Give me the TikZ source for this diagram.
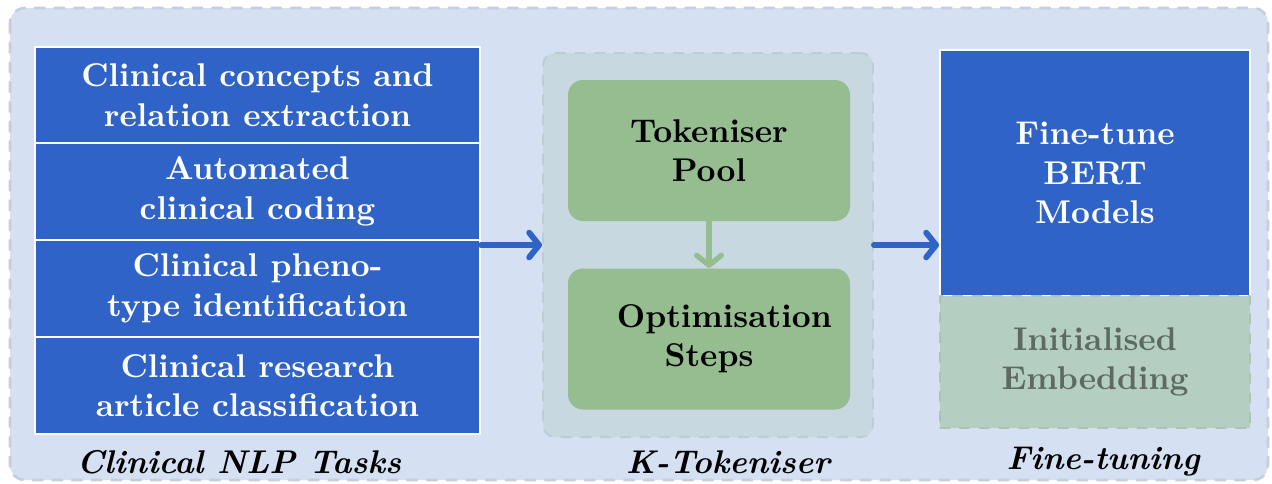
\documentclass[tikz,border=0pt]{standalone}
\usepackage{tikz}
\usetikzlibrary{arrows.meta}

\definecolor{outerbg}{HTML}{D5E0F3}
\definecolor{taskblue}{HTML}{3063C8}
\definecolor{panelbg}{HTML}{C7D8E1}
\definecolor{poolgreen}{HTML}{95BD8F}
\definecolor{fadegreen}{HTML}{B4CEC1}
\definecolor{fadetext}{HTML}{5D6A60}

\newdimen\px
\px=0.0107cm

\begin{document}
\begin{tikzpicture}[line cap=round,line join=round,x=\px,y=-\px,
    task/.style={fill=taskblue, draw=white, line width=0.6pt, text=white,
      font=\bfseries, align=center, minimum width=445\px, minimum height=97\px, inner sep=0},
    stage/.style={fill=poolgreen, draw=none, rounded corners=15\px, font=\bfseries,
      align=center, minimum width=282\px, minimum height=141\px},
    flow/.style={-{Straight Barb[length=3pt,width=7.5pt,round]}, line width=1.8pt, color=taskblue},
    caption/.style={font=\bfseries\itshape, inner sep=0}]
      % \draw[help lines,step=100] (0,0) grid (1272,483);
      \useasboundingbox (0,0) rectangle (1272,483);

      % background
      \draw[fill=outerbg, draw=outerbg!92!black, dashed, line width=0.8pt, rounded corners=15\px]
        (10,8) rectangle (1268,480);

      % clinical NLP tasks
      \node[task] (t1) at (257.5,95) {Clinical concepts and\\relation extraction};
      \node[task] (t2) at (257.5,191.5) {Automated\\clinical coding};
      \node[task] (t3) at (257.5,288.5) {Clinical pheno-\\type identification};
      \node[task] (t4) at (257.5,385.5) {Clinical research\\article classification};
      \node[caption] (c1) at (239,462) {Clinical NLP Tasks};

      % K-Tokeniser
      \node[fill=panelbg, draw=panelbg!95!black, dashed, line width=0.6pt, rounded corners=12\px,
        minimum width=330\px, minimum height=384\px] (panel) at (708,245) {};
      \node[stage] (pool) at (709,150.5) {Tokeniser\\Pool};
      \node[stage, text width=1.97cm] (steps) at (709,339) {Optimisation\\Steps};
      \draw[flow, color=poolgreen, line width=1.6pt] (pool) -- (steps);
      \node[caption] (c2) at (728,462) {K-Tokeniser};

      % fine-tuning
      \node[task, minimum width=310\px, minimum height=246\px] (bert) at (1095,173)
        {Fine-tune\\BERT\\Models};
      \node[fill=fadegreen, draw=fadegreen!95!black, dashed, line width=0.4pt,
        text=fadetext, font=\bfseries, align=center, minimum width=310\px,
        minimum height=132\px] (embed) at (1095,362) {Initialised\\Embedding};
      \node[caption] (c3) at (1103,462) {Fine-tuning};

      % connectors
      \draw[flow] (t3.north east |- panel.west) -- (panel.west);
      \draw[flow] (panel.east) -- (bert.west |- panel.east);
\end{tikzpicture}
\end{document}
